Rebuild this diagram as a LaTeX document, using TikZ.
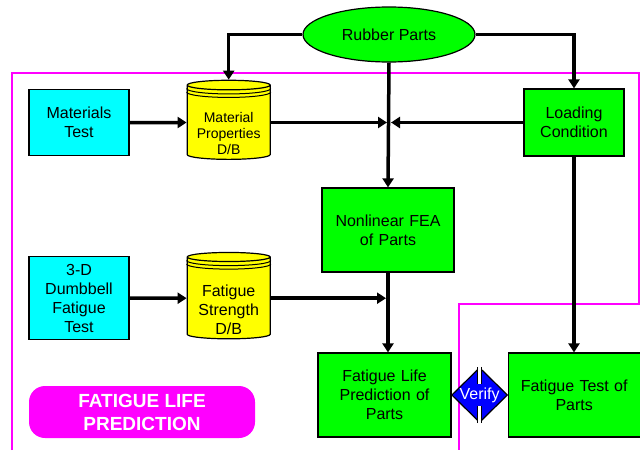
\documentclass[tikz,border=0pt]{standalone}
\usepackage{fontspec}
\setmainfont{Liberation Sans}
\usetikzlibrary{shapes.geometric,arrows.meta,positioning,calc}

\definecolor{testcyan}{RGB}{0,255,255}
\definecolor{stepgreen}{RGB}{0,255,0}
\definecolor{dbyellow}{RGB}{255,255,0}
\definecolor{checkblue}{RGB}{0,0,255}
\definecolor{areapink}{RGB}{255,0,255}

\begin{document}
\begin{tikzpicture}[
    x=1pt, y=1pt,
    node distance=57pt,
    testbox/.style={rectangle, draw, line width=1.2pt, fill=testcyan, inner sep=2pt, text width=96pt, align=center, font=\fontsize{16}{19}\selectfont},
    process/.style={rectangle, draw, line width=1.2pt, fill=stepgreen, inner sep=2pt, align=center, font=\fontsize{16}{19}\selectfont},
    dbase/.style={cylinder, shape border rotate=90, aspect=0.15, draw, line width=1.2pt, fill=dbyellow, inner sep=0pt, align=center, minimum width=83pt},
    terminal/.style={ellipse, draw, line width=1.2pt, fill=stepgreen, minimum width=172pt, minimum height=55pt, font=\fontsize{16}{19}\selectfont},
    verify/.style={diamond, draw, line width=1.2pt, fill=checkblue, text=white, inner sep=0pt, minimum width=56pt, minimum height=55pt, font=\fontsize{16}{19}\selectfont},
    banner/.style={rectangle, rounded corners=16pt, fill=areapink, text=white, align=center, minimum width=226pt, minimum height=52pt, font=\fontsize{19}{23}\selectfont\bfseries},
    arrow/.style={-{Triangle[length=9pt,width=11pt]}, line width=3.5pt},
    frame/.style={areapink, line width=2pt}
]
\useasboundingbox (0,0) rectangle (640,-450);

% Boundary of the prediction area
\draw[frame] (12,-450) -- (12,-73) -- (639,-73) -- (639,-304) -- (459,-304) -- (459,-450);

% Source
\node[terminal] (rubber) at (389,-34.5) {Rubber Parts};

% Material data
\node[testbox, minimum height=66pt] (mattest) at (79,-122.5) {Materials\\Test};
\node[dbase, minimum height=79pt, text height=64pt, font=\fontsize{14}{16}\selectfont, right=of mattest] (matdb) {Material\\Properties\\D/B};
\node[process, text width=96pt, minimum height=67pt] (loading) at (574,-122.5) {Loading\\Condition};

% Analysis
\node[process, text width=128pt, minimum height=84pt] (fea) at (388,-230) {Nonlinear FEA\\of Parts};

% Fatigue data
\node[testbox, minimum height=83pt, below=100pt of mattest] (dumbtest) {3-D\\Dumbbell\\Fatigue\\Test};
\node[dbase, minimum height=82pt, text height=72pt, font=\fontsize{16}{19}\selectfont, right=of dumbtest] (fsdb) {Fatigue\\Strength\\D/B};

% Results
\node[process, text width=129pt, minimum height=84pt] (flp) at (384.5,-395) {Fatigue Life\\Prediction of\\Parts};
\node[process, text width=128pt, minimum height=84pt, right=56pt of flp] (ftest) {Fatigue Test of\\Parts};
\node[verify] (check) at ($(flp.east)!0.5!(ftest.west)$) {Verify};

% Title
\node[banner] (title) at (142,-412) {FATIGUE LIFE\\PREDICTION};

% Rings on the data bases
\foreach \db in {matdb, fsdb}{
  \foreach \d in {3.5,7}
    \draw[line width=1pt] let \p1=(\db.top), \p2=(\db.before top), \p3=(\db.after top) in
      ({min(\x2,\x3)},{\y2-\d}) arc[start angle=180, end angle=360, x radius={abs(\x2-\x3)/2}, y radius={abs(\y1-\y2)}];
}

% Slots in the verify sign
\draw[line width=5pt] (check.north) -- ++(0,-17);
\draw[white, line width=2.6pt] ([yshift=1pt]check.north) -- ++(0,-18);
\draw[line width=5pt] (check.south) -- ++(0,17);
\draw[white, line width=2.6pt] ([yshift=-1pt]check.south) -- ++(0,18);

% Arrows
\coordinate (join) at (rubber.south |- matdb.east);
\draw[arrow] (rubber.west) -| (matdb.north);
\draw[arrow] (rubber.east) -| (loading.north);
\draw[arrow] (rubber.south) -- (fea.north);
\draw[arrow] (mattest) -- (matdb);
\draw[arrow] (matdb.east) -- ([xshift=-2pt]join);
\draw[arrow] (loading.west) -- ([xshift=2pt]join);
\draw[arrow] (dumbtest) -- (fsdb);
\draw[arrow] (fsdb.east) -- ([xshift=-2pt]fea.south |- fsdb.east);
\draw[arrow] (fea.south) -- (fea.south |- flp.north);
\draw[arrow] (loading.south) -- (loading.south |- ftest.north);

\end{tikzpicture}
\end{document}
